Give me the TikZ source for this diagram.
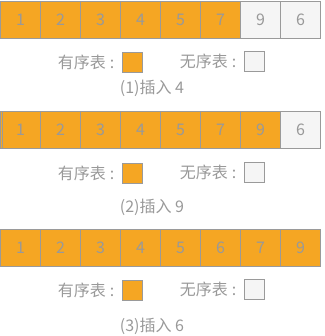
\documentclass[tikz,border=0pt]{standalone}
\usepackage{fontspec}
\setmainfont{Noto Sans CJK SC}
\usetikzlibrary{positioning}
\definecolor{sorted}{HTML}{F5A623}
\definecolor{unsorted}{HTML}{F5F5F5}
\definecolor{txtgray}{HTML}{999999}
\definecolor{edgegray}{HTML}{9A9A9A}

\begin{document}
\begin{tikzpicture}[x=1pt,y=-1pt,
    cell/.style={draw=edgegray, line width=0.8pt, minimum width=40pt, minimum height=37pt,
        inner sep=0pt, text=txtgray, font=\fontsize{16}{16}\selectfont},
    key/.style={draw=edgegray, line width=0.8pt, minimum size=20pt, inner sep=0pt},
    lbl/.style={inner sep=0pt, text=txtgray, font=\fontsize{16}{16}\selectfont}]
    \useasboundingbox (0,0) rectangle (324,336);

    % Row 1: insert 4
    \foreach \v [count=\i] in {1,2,3,4,5,7,9,6} {
        \ifnum\i<7 \def\fc{sorted}\else\def\fc{unsorted}\fi
        \node[cell, fill=\fc] (a\i) at ({40*\i-19.5},19.5) {\v};
    }
    \node[key, fill=sorted] (ka1) at (132,62) {};
    \node[key, fill=unsorted] (kb1) at (254,61) {};
    \node[lbl, left=7pt of ka1] (ta1) {有序表\hspace{4pt}:};
    \node[lbl, left=7pt of kb1] (tb1) {无序表\hspace{4pt}:};
    \node[lbl] (cap1) at (152,88) {(1)插入 4};

    % Row 2: insert 9
    \foreach \v [count=\i] in {1,2,3,4,5,7,9,6} {
        \ifnum\i<8 \def\fc{sorted}\else\def\fc{unsorted}\fi
        \node[cell, fill=\fc] (b\i) at ({40*\i-19.5},130) {\v};
    }
    \draw[edgegray, line width=0.8pt] ([xshift=2pt]b1.north west) -- ([xshift=2pt]b1.south west);
    \node[key, fill=sorted] (ka2) at (132,173) {};
    \node[key, fill=unsorted] (kb2) at (254,172) {};
    \node[lbl, left=7pt of ka2] (ta2) {有序表\hspace{4pt}:};
    \node[lbl, left=7pt of kb2] (tb2) {无序表\hspace{4pt}:};
    \node[lbl] (cap2) at (152,207) {(2)插入 9};

    % Row 3: insert 6
    \foreach \v [count=\i] in {1,2,3,4,5,6,7,9} {
        \node[cell, fill=sorted] (c\i) at ({40*\i-19.5},247.5) {\v};
    }
    \node[key, fill=sorted] (ka3) at (132,290) {};
    \node[key, fill=unsorted] (kb3) at (254,289) {};
    \node[lbl, left=7pt of ka3] (ta3) {有序表\hspace{4pt}:};
    \node[lbl, left=7pt of kb3] (tb3) {无序表\hspace{4pt}:};
    \node[lbl] (cap3) at (152,326) {(3)插入 6};
\end{tikzpicture}
\end{document}
